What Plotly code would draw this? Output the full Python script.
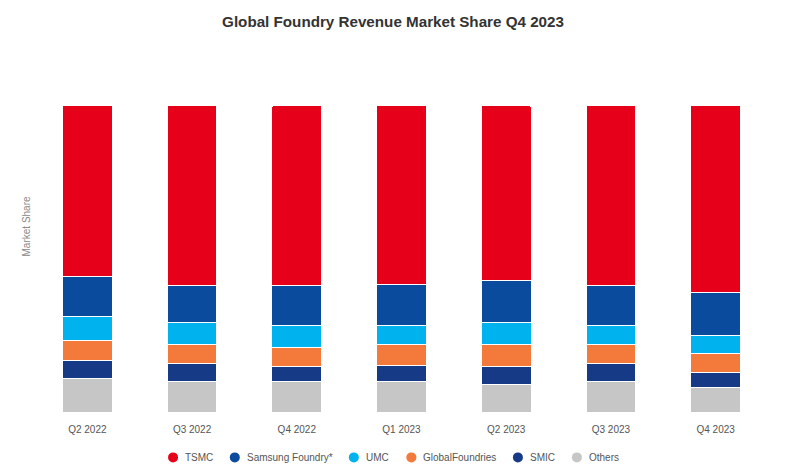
import plotly.graph_objects as go

quarters = ["Q2 2022", "Q3 2022", "Q4 2022", "Q1 2023", "Q2 2023", "Q3 2023", "Q4 2023"]
tsmc = [55.9, 58.7, 58.7, 58.5, 57.1, 58.7, 61.0]
samsung = [13.0, 12.2, 13.2, 13.2, 13.7, 13.2, 14.1]
umc = [7.9, 7.1, 7.1, 6.2, 7.2, 6.1, 6.0]
globalfoundries = [6.3, 6.1, 6.2, 7.1, 7.1, 6.1, 5.9]
smic = [5.9, 5.9, 4.9, 5.0, 5.9, 5.9, 5.1]
others = [11.0, 10.0, 9.9, 10.0, 9.0, 10.0, 7.9]

series_names = ["TSMC", "Samsung Foundry*", "UMC", "GlobalFoundries", "SMIC", "Others"]
colors = ["#E60019", "#0A4B9E", "#00B3EE", "#F37A3B", "#173A86", "#C6C6C6"]
series_values = [tsmc, samsung, umc, globalfoundries, smic, others]

# ---- layout constants (screen pixels) ----
W, H = 800, 474
OFF = 8  # page body margin offset of the figure div
PX0, PX1, PY0, PY1 = 35.3, 768, 105.2, 412.3   # plot box
ML = PX0 - OFF
MR = W - (PX1 - OFF)
MT = PY0 - OFF
MB = H - (PY1 - OFF)
plot_w = W - ML - MR
plot_h = H - MT - MB
legend_marker_px = [173.3, 235, 354, 411.5, 518, 577]  # legend item marker centres
legend_y_px = 457.7
legend_text_gap = 11


def px_to_paper_x(px):
    return (px - PX0) / plot_w


def px_to_paper_y(py):
    return (PY1 - py) / plot_h


fig = go.Figure()
# stack bottom -> top: Others first, TSMC last
for name, vals, col in reversed(list(zip(series_names, series_values, colors))):
    fig.add_trace(go.Bar(
        x=quarters, y=vals, name=name, showlegend=False,
        marker=dict(color=col, line=dict(color="white", width=1)),
        hovertemplate="%{x}<br>" + name + ": %{y}%<extra></extra>",
    ))

# legend: circle markers + labels
shapes = []
annotations = []
for name, col, mx in zip(series_names, colors, legend_marker_px):
    shapes.append(dict(
        type="circle", xref="paper", yref="paper",
        xsizemode="pixel", ysizemode="pixel",
        xanchor=px_to_paper_x(mx), yanchor=px_to_paper_y(legend_y_px),
        x0=-5, x1=5, y0=-5, y1=5,
        fillcolor=col, line=dict(width=0),
    ))
    annotations.append(dict(
        text=name, xref="paper", yref="paper",
        x=px_to_paper_x(mx + legend_text_gap - 1), xanchor="left",
        y=px_to_paper_y(legend_y_px), yanchor="middle",
        showarrow=False, font=dict(size=10, color="#555555"),
    ))

annotations.append(dict(
    text="Market Share", textangle=-90, xref="paper", yref="paper",
    x=px_to_paper_x(27), xanchor="center",
    y=px_to_paper_y(227), yanchor="middle",
    showarrow=False, font=dict(size=10, color="#888888"),
))

fig.update_layout(
    width=W, height=H,
    barmode="stack",
    bargap=0.525,
    barcornerradius=2,
    showlegend=False,
    plot_bgcolor="white", paper_bgcolor="white",
    margin=dict(l=ML, r=MR, t=MT, b=MB, autoexpand=False),
    font=dict(family="Liberation Sans, Arial, sans-serif", color="#555555", size=10),
    title=dict(
        text="<b>Global Foundry Revenue Market Share Q4 2023</b>",
        x=(393 - OFF) / W, xanchor="center", y=1 - (22 - OFF) / H, yanchor="middle",
        font=dict(size=15.2, color="#333333", family="Liberation Sans, Arial, sans-serif"),
    ),
    xaxis=dict(showline=False, showgrid=False, ticks="", ticklabelstandoff=10,
               tickfont=dict(size=10, color="#555555")),
    yaxis=dict(range=[0, 100], showgrid=False, showticklabels=False, zeroline=False,
               showline=False, ticks=""),
    shapes=shapes,
    annotations=annotations,
)

fig.write_html("out.html")
